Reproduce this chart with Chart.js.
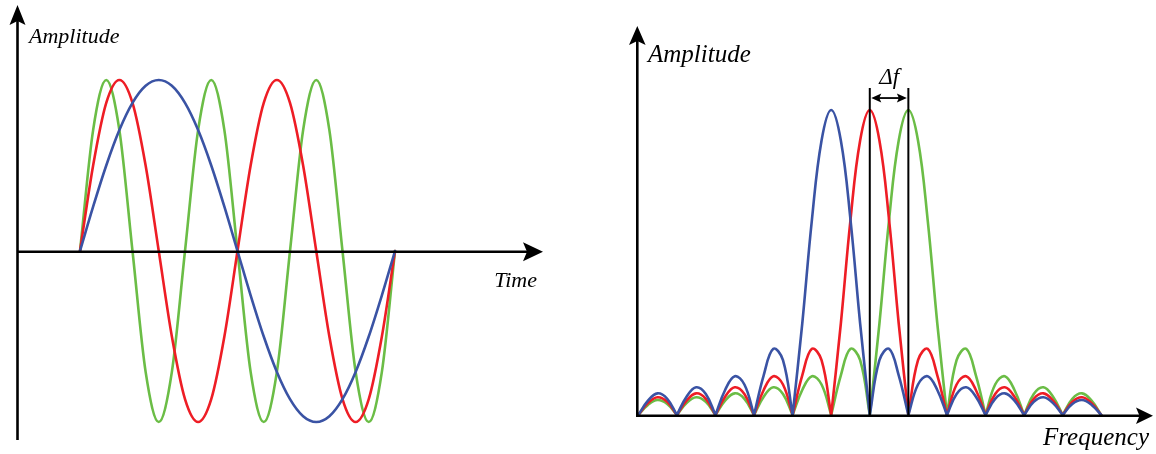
<!DOCTYPE html>
<html><head><meta charset="utf-8">
<script src="https://cdn.jsdelivr.net/npm/chart.js@4.4.0/dist/chart.umd.min.js"></script>
<style>
html,body{margin:0;padding:0;background:#fff;overflow:hidden}
#wrap{position:relative;width:1156px;height:454px;background:#fff}
canvas{position:absolute;left:0;top:0}
</style></head><body>
<div id="wrap">
<canvas id="timeChart" width="1156" height="454"></canvas>
<canvas id="freqChart" width="1156" height="454"></canvas>
</div>
<script>
// ---------- Time-domain signals (samples every 1/24 of the window) ----------
const blueWave  = [0, 0.259, 0.5, 0.707, 0.866, 0.966, 1, 0.966, 0.866, 0.707, 0.5, 0.259, 0,
                   -0.259, -0.5, -0.707, -0.866, -0.966, -1, -0.966, -0.866, -0.707, -0.5, -0.259, 0];
const redWave   = [0, 0.5, 0.866, 1, 0.866, 0.5, 0, -0.5, -0.866, -1, -0.866, -0.5, 0,
                   0.5, 0.866, 1, 0.866, 0.5, 0, -0.5, -0.866, -1, -0.866, -0.5, 0];
const greenWave = [0, 0.707, 1, 0.707, 0, -0.707, -1, -0.707, 0, 0.707, 1, 0.707, 0,
                   -0.707, -1, -0.707, 0, 0.707, 1, 0.707, 0, -0.707, -1, -0.707, 0];

// ---------- Magnitude spectra (samples every 1/4 frequency bin, bins 0..12) ----------
const blueSpectrum = [0, 0.047, 0.071, 0.053, 0, 0.060, 0.091, 0.069, 0, 0.082, 0.127, 0.100, 0,
                      0.13, 0.217, 0.18, 0, 0.30, 0.64, 0.90, 1, 0.90, 0.64, 0.30, 0,
                      0.18, 0.217, 0.13, 0, 0.10, 0.127, 0.082, 0, 0.069, 0.091, 0.060, 0,
                      0.053, 0.071, 0.047, 0, 0.043, 0.058, 0.039, 0, 0.036, 0.049, 0.033, 0];
const redSpectrum  = [0, 0.039, 0.058, 0.043, 0, 0.047, 0.071, 0.053, 0, 0.060, 0.091, 0.069, 0,
                      0.082, 0.127, 0.100, 0, 0.13, 0.217, 0.18, 0, 0.30, 0.64, 0.90, 1,
                      0.90, 0.64, 0.30, 0, 0.18, 0.217, 0.13, 0, 0.10, 0.127, 0.082, 0,
                      0.069, 0.091, 0.060, 0, 0.053, 0.071, 0.047, 0, 0.043, 0.058, 0.039, 0];
const greenSpectrum = [0, 0.033, 0.049, 0.036, 0, 0.039, 0.058, 0.043, 0, 0.047, 0.071, 0.053, 0,
                      0.060, 0.091, 0.069, 0, 0.082, 0.127, 0.100, 0, 0.13, 0.217, 0.18, 0,
                      0.30, 0.64, 0.90, 1, 0.90, 0.64, 0.30, 0, 0.18, 0.217, 0.13, 0,
                      0.10, 0.127, 0.082, 0, 0.069, 0.091, 0.060, 0, 0.053, 0.071, 0.047, 0];

// centre bins of the three spectra; Δf marks the spacing between red and green
const spectrumCentres = [5, 6, 7];
const deltaFBins = [6, 7];

// text labels
const timeLabels = { y: 'Amplitude', x: 'Time' };
const freqLabels = { y: 'Amplitude', x: 'Frequency', delta: '\u0394f' };

const COLORS = { blue: '#3a53a4', red: '#ee1d25', green: '#6bbd46' };
const FONT = '"Liberation Serif", "Times New Roman", serif';

// ---------- table builders ----------
function timeSeries(values) {
  const n = values.length - 1;
  return values.map((v, k) => ({ x: k / n, y: v }));
}
function spectrumSeries(values) {
  const pts = [];
  values.forEach((v, i) => {
    const p = { x: i / 4, y: v };
    pts.push(p);
    // duplicate interior zeros so the spline forms a cusp there
    if (v === 0 && i > 0 && i < values.length - 1) pts.push({ x: p.x, y: 0 });
  });
  return pts;
}

function arrowHead(ctx, x, y, angle, len, half, notch) {
  ctx.save();
  ctx.translate(x, y);
  ctx.rotate(angle);
  ctx.beginPath();
  ctx.moveTo(0, 0);
  ctx.lineTo(-len, -half);
  ctx.lineTo(-len + notch, 0);
  ctx.lineTo(-len, half);
  ctx.closePath();
  ctx.fill();
  ctx.restore();
}

// ---------- axes plugin for the time chart ----------
const timeAxes = {
  id: 'timeAxes',
  afterDatasetsDraw(chart) {
    const { ctx, chartArea: a, scales } = chart;
    const y0 = scales.y.getPixelForValue(0) + 0.7;
    const xAxisX = a.left - 0.5;
    ctx.save();
    ctx.strokeStyle = '#000'; ctx.fillStyle = '#000'; ctx.lineWidth = 2.6;
    ctx.beginPath(); ctx.moveTo(xAxisX, a.bottom); ctx.lineTo(xAxisX, a.top + 14); ctx.stroke();
    arrowHead(ctx, xAxisX, a.top, -Math.PI / 2, 20, 8, 4);
    ctx.beginPath(); ctx.moveTo(xAxisX, y0); ctx.lineTo(a.right - 14, y0); ctx.stroke();
    arrowHead(ctx, a.right, y0, 0, 20, 9.5, 4);
    ctx.font = 'italic 22px ' + FONT;
    ctx.textBaseline = 'alphabetic';
    ctx.textAlign = 'left';
    ctx.fillText(timeLabels.y, a.left + 11, 43);
    ctx.textAlign = 'right';
    ctx.fillText(timeLabels.x, a.right - 6, y0 + 35);
    ctx.restore();
  }
};

// ---------- axes plugin for the frequency chart ----------
const freqAxes = {
  id: 'freqAxes',
  afterDatasetsDraw(chart) {
    const { ctx, chartArea: a, scales } = chart;
    const y0 = scales.y.getPixelForValue(0) + 0.8;
    const xAxisX = a.left + 0.3;
    ctx.save();
    ctx.strokeStyle = '#000'; ctx.fillStyle = '#000'; ctx.lineWidth = 2.6;
    ctx.beginPath(); ctx.moveTo(xAxisX, y0 + 1.3); ctx.lineTo(xAxisX, a.top + 14); ctx.stroke();
    arrowHead(ctx, xAxisX, a.top, -Math.PI / 2, 19, 8.3, 4);
    ctx.beginPath(); ctx.moveTo(xAxisX - 1.3, y0); ctx.lineTo(a.right - 12, y0); ctx.stroke();
    arrowHead(ctx, a.right, y0, 0, 17, 8.3, 3.5);
    // Δf markers
    const xa = scales.x.getPixelForValue(deltaFBins[0]);
    const xb = scales.x.getPixelForValue(deltaFBins[1]);
    const top = scales.y.getPixelForValue(1.072);
    ctx.lineWidth = 2;
    ctx.beginPath();
    ctx.moveTo(xa, top); ctx.lineTo(xa, y0);
    ctx.moveTo(xb, top); ctx.lineTo(xb, y0);
    ctx.stroke();
    const ay = top + 10;
    ctx.lineWidth = 1.8;
    ctx.beginPath(); ctx.moveTo(xa + 6, ay); ctx.lineTo(xb - 6, ay); ctx.stroke();
    arrowHead(ctx, xa + 1.5, ay, Math.PI, 10, 4.5, 2);
    arrowHead(ctx, xb - 1.5, ay, 0, 10, 4.5, 2);
    ctx.font = 'italic 23px ' + FONT;
    ctx.textAlign = 'center';
    ctx.textBaseline = 'alphabetic';
    ctx.fillText(freqLabels.delta, (xa + xb) / 2, top - 4);
    ctx.font = 'italic 25px ' + FONT;
    ctx.textAlign = 'left';
    ctx.fillText(freqLabels.y, a.left + 11, 62);
    ctx.textAlign = 'right';
    ctx.fillText(freqLabels.x, a.right - 4, y0 + 29);
    ctx.restore();
  }
};

const common = {
  responsive: false, animation: false, devicePixelRatio: 1,
  plugins: { legend: { display: false }, tooltip: { enabled: false }, title: { display: false } },
  elements: { point: { radius: 0, hoverRadius: 0 }, line: { borderWidth: 2.6 } },
  events: []
};

function ds(label, data, color, extra) {
  return Object.assign({ label, data, borderColor: color, backgroundColor: color, fill: false, clip: 6,
                         borderJoinStyle: 'round', borderCapStyle: 'round' }, extra);
}

new Chart(document.getElementById('timeChart'), {
  type: 'line',
  data: {
    datasets: [
      ds('blue', timeSeries(blueWave), COLORS.blue, { cubicInterpolationMode: 'monotone' }),
      ds('red', timeSeries(redWave), COLORS.red, { cubicInterpolationMode: 'monotone' }),
      ds('green', timeSeries(greenWave), COLORS.green, { cubicInterpolationMode: 'monotone' })
    ]
  },
  options: Object.assign({}, common, {
    layout: { padding: { left: 18, right: 613, top: 5, bottom: 14 } },
    scales: {
      x: { type: 'linear', display: false, min: -0.19683, max: 1.46984 },
      y: { type: 'linear', display: false, min: -1.10526, max: 1.4386 }
    }
  }),
  plugins: [timeAxes]
});

new Chart(document.getElementById('freqChart'), {
  type: 'line',
  data: {
    datasets: [
      ds('blue', spectrumSeries(blueSpectrum), COLORS.blue, { tension: 0.4 }),
      ds('red', spectrumSeries(redSpectrum), COLORS.red, { tension: 0.4 }),
      ds('green', spectrumSeries(greenSpectrum), COLORS.green, { tension: 0.4 })
    ]
  },
  options: Object.assign({}, common, {
    layout: { padding: { left: 637, right: 3, top: 26, bottom: 38 } },
    scales: {
      x: { type: 'linear', display: false, min: -0.0337, max: 13.341 },
      y: { type: 'linear', display: false, min: -0.00328, max: 1.2754 }
    }
  }),
  plugins: [freqAxes]
});
</script>
</body></html>
